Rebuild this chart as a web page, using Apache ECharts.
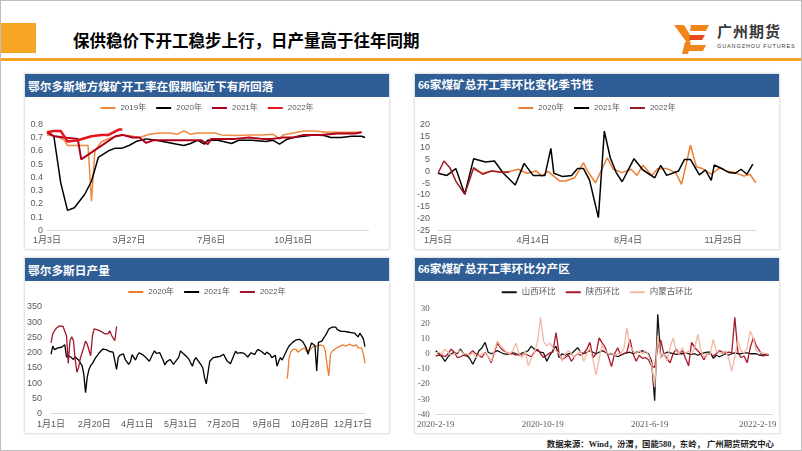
<!DOCTYPE html>
<html><head><meta charset="utf-8">
<script src="https://cdn.jsdelivr.net/npm/echarts/dist/echarts.min.js"></script>
<style>
body{margin:0;background:#fff;}
#page{position:relative;width:802px;height:451px;overflow:hidden;background:#fff;font-family:"Noto Sans CJK SC",sans-serif;box-sizing:border-box;border:1px solid #bdbdbd;}
.abs{position:absolute;}
.card{position:absolute;background:#fff;border:1px solid #e4e4e4;box-shadow:0 0 2px rgba(0,0,0,0.12);box-sizing:border-box;}
.bar{position:absolute;left:0;top:0;right:0;height:23px;background:#2f5d95;color:#fff;font-weight:bold;font-size:11.7px;line-height:23px;padding-left:3px;white-space:nowrap;}
.chart{position:absolute;}
</style></head>
<body>
<div id="page">
  <div class="abs" style="left:0;top:22px;width:35px;height:30px;background:#F6A623"></div>
  <div class="abs" style="left:0;top:57px;width:802px;height:3px;background:#F6A623"></div>
  <div class="abs" style="left:72px;top:27px;font-size:16.5px;font-weight:bold;color:#000;line-height:24px;white-space:nowrap">保供稳价下开工稳步上行，日产量高于往年同期</div>
  <svg class="abs" style="left:672px;top:20px" width="40" height="34" viewBox="0 0 40 34">
    <polygon points="1,4 11,4 19,17 15,23" fill="#F08519"/>
    <polygon points="12,21 18,21 15,33 9,33" fill="#F08519"/>
    <polygon points="18,4 36,4 33,10 17,10" fill="#F08519"/>
    <polygon points="17,14 32,14 29,19 16,19" fill="#E8481B"/>
    <polygon points="16,24 33,24 30,30 14,30" fill="#F08519"/>
  </svg>
  <div class="abs" style="left:716px;top:21px;font-size:15px;font-weight:bold;color:#3a3a3a;line-height:18px;white-space:nowrap;letter-spacing:1px">广州期货</div>
  <div class="abs" style="left:716px;top:42px;font-size:5.5px;color:#3a3a3a;line-height:7px;white-space:nowrap;letter-spacing:0.9px;font-family:'Liberation Sans',sans-serif">GUANGZHOU FUTURES</div>

  <div class="card" style="left:23px;top:72px;width:366px;height:177px"><div class="bar">鄂尔多斯地方煤矿开工率在假期临近下有所回落</div></div>
  <div class="card" style="left:413px;top:72px;width:366px;height:177px"><div class="bar" style="font-family:'Liberation Serif','Noto Sans CJK SC',serif">66家煤矿总开工率环比变化季节性</div></div>
  <div class="card" style="left:23px;top:256px;width:366px;height:177px"><div class="bar">鄂尔多斯日产量</div></div>
  <div class="card" style="left:413px;top:256px;width:366px;height:177px"><div class="bar" style="font-family:'Liberation Serif','Noto Sans CJK SC',serif">66家煤矿总开工率环比分产区</div></div>

  <div class="abs" style="right:27px;top:437px;font-size:8.4px;color:#222;font-weight:bold;white-space:nowrap;font-family:'Liberation Serif','Noto Sans CJK SC',serif;line-height:14px">数据来源：Wind，汾渭，国能580，东岭， 广州期货研究中心</div>

  <div id="c1" class="chart" style="left:23px;top:96px;width:366px;height:152px"></div>
  <div id="c2" class="chart" style="left:413px;top:96px;width:366px;height:152px"></div>
  <div id="c3" class="chart" style="left:23px;top:279px;width:366px;height:153px"></div>
  <div id="c4" class="chart" style="left:413px;top:279px;width:366px;height:153px"></div>
</div>
<script>
// ---------- Chart 1: 鄂尔多斯地方煤矿开工率 (category index, rate) ----------
const ticks1 = ['1月3日', '3月27日', '7月6日', '10月18日'];
const nCat1 = 95;          // seasonal date slots
const tickEvery1 = 24;
const rate2019 = [[0,0.72],[3,0.71],[5,0.68],[6,0.64],[12,0.64],[13,0.22],[14,0.60],[16,0.67],[19,0.70],[22,0.72],[24,0.715],[27,0.70],[30,0.725],[33,0.735],[36,0.735],[38,0.725],[40,0.75],[42,0.725],[44,0.735],[47,0.735],[49,0.735],[51,0.72],[55,0.715],[59,0.72],[63,0.72],[66,0.725],[68,0.69],[69,0.72],[72,0.735],[75,0.75],[78,0.75],[82,0.74],[86,0.74],[90,0.74],[92,0.74]];
const rate2020 = [[0,0.74],[2,0.71],[4,0.36],[6,0.15],[8,0.17],[11,0.27],[13,0.37],[15,0.55],[18,0.60],[20,0.62],[22,0.62],[24,0.64],[26,0.67],[29,0.69],[32,0.68],[35,0.665],[38,0.65],[40,0.64],[42,0.655],[44,0.68],[46,0.65],[47,0.68],[50,0.68],[54,0.655],[56,0.68],[60,0.68],[64,0.67],[66,0.68],[68,0.65],[70,0.685],[72,0.70],[75,0.71],[78,0.72],[81,0.715],[83,0.70],[86,0.70],[89,0.71],[92,0.71],[93,0.70]];
const rate2021 = [[0,0.74],[2,0.71],[5,0.70],[9,0.69],[10,0.535],[20,0.71],[22,0.72],[25,0.70],[27,0.70],[29,0.66],[31,0.68],[35,0.68],[40,0.68],[45,0.68],[47,0.65],[48,0.69],[51,0.69],[55,0.69],[59,0.70],[63,0.69],[66,0.69],[69,0.70],[72,0.70],[75,0.72],[80,0.72],[85,0.73],[90,0.73],[92,0.74]];
const rate2022 = [[0,0.74],[2,0.75],[4,0.75],[6,0.67],[9,0.68],[13,0.71],[16,0.72],[18,0.72],[21,0.76],[22,0.76]];

// ---------- Chart 2: 66家煤矿总开工率环比 (category index, %) ----------
const ticks2 = ['1月5日', '4月14日', '8月4日', '11月25日'];
const nCat2 = 108;
const tickEvery2 = 32;
const chg2020 = [[12,0.9],[15,-0.8],[18,0.2],[22,-0.3],[24,0],[27,0.9],[30,-0.8],[33,0.2],[35,-2],[37,0],[41,-4.1],[43,-4.1],[46,-2.7],[49,3.7],[50,0.9],[53,-4.8],[57,5.8],[59,0.9],[62,-0.5],[65,0.9],[67,-1.7],[69,2.6],[72,-1.7],[74,1.2],[77,1.2],[80,-0.5],[82,-5.5],[85,11.1],[87,2.0],[89,1.2],[92,-1.2],[95,1.6],[97,0.2],[100,-0.5],[103,-2],[105,-1.2],[107,-4.8]];
const chg2021 = [[0,-0.8],[3,-1.7],[6,1.2],[9,-9.7],[12,5.4],[16,4.0],[19,4.4],[22,-0.8],[26,-5.8],[29,3.4],[32,-1.7],[36,-1.7],[38,9.8],[39,-0.8],[42,-2.2],[45,-1.7],[47,1.2],[49,1.2],[51,-3.6],[54,-19.6],[56,17.1],[58,5.8],[60,-0.5],[62,-4.4],[66,5.4],[69,0.6],[73,-2.7],[75,2.6],[77,-1.7],[81,0.2],[83,5.1],[85,5.1],[88,-1.5],[90,0.6],[92,-3.8],[93,2.7],[96,0.9],[98,-0.5],[100,-0.8],[102,0.9],[104,-1.2],[106,3.1]];
const chg2022 = [[0,-0.8],[2,4.4],[4,1.6],[6,-4.1],[9,-9.7],[12,1.6],[15,-1.2],[18,0.2],[22,-0.5],[24,-0.3]];

// ---------- Chart 3: 鄂尔多斯日产量 (every 2nd day of year) ----------
const ticks3 = ['1月1日', '2月20日', '4月11日', '5月31日', '7月20日', '9月8日', '10月28日', '12月17日'];
const nCat3 = 183;
const tickEvery3 = 25;
const prod2021 = [
  195,222,210,205,216,222,218,214,226,186,
  190,188,182,178,186,184,176,172,158,130,
  69,120,145,158,165,175,185,192,200,206,
  212,216,210,208,204,200,202,196,145,185,
  192,198,196,178,170,162,170,194,185,176,
  190,200,196,194,188,184,180,172,166,196,
  206,198,204,200,206,175,160,170,174,178,
  170,162,170,168,185,206,200,196,192,185,
  178,166,156,176,184,176,170,160,150,118,
  98,135,172,178,184,180,186,184,188,192,
  195,184,174,168,164,160,192,205,198,194,
  200,205,198,192,186,190,200,196,194,204,
  211,206,204,198,194,202,205,194,184,190,
  192,156,172,184,176,174,200,212,222,228,
  234,238,242,244,244,240,236,232,215,195,
  215,232,228,224,140,234,240,238,248,256,
  266,278,280,284,288,284,276,272,270,272,
  270,266,268,266,266,270,264,266,252,264,
  258,246,220];
const prod2022 = [
  232,262,272,280,284,288,292,286,280,255,
  165,240,252,240,178,136,152,182,200,218,
  238,228,222,190,255,278,280,275,272,270,
  274,262,268,262,272,258,248,240,286];
const prod2020Start = 137; // slot of 10月1日 (day 274)
const prod2020 = [
  115,184,202,210,206,212,202,200,210,214,
  216,204,200,210,212,220,226,222,220,226,
  224,222,205,160,124,195,205,210,214,216,
  220,222,226,226,222,220,228,232,222,220,
  226,216,214,216,196,166];

// ---------- Chart 4: 分产区环比 (weekly, x = days since 2020-2-19) ----------
const ticks4 = ['2020-2-19', '2020-10-19', '2021-6-19', '2022-2-19'];
const tickDays4 = [0, 243, 486, 731];
const axisEndDay4 = 765;
const shanxi = [
  2,0,-2,-5,-2,0,1,0,3,0,
  -1,-3,-7,-3,2,4,7.5,1,0,1,
  2,1,0,-0.5,0,0.5,0,-1,0.5,1,
  2,5,3,2,1,0.5,-5,-1,2,5,
  -2.5,0,-1,0,0,2,4,1,0,1,
  2,1,0,1,2,1,0,0,-1,-2,
  -1,0,0.5,1,0,1,1,2,1,0,
  -5,-31,26,-2.5,0,1,0.5,0,-0.5,0,
  0,0.5,0,-0.5,0,-1,0,0.5,1,1,
  -3,-1,-2,-1,0,-1,0,0.5,0,0,
  0.5,0.5,0,0,0,-1,-1,-0.5,-0.5];
const shaanxi = [
  -1.5,-1,-1,-2,0,3,1,-2.5,-2,-1,
  -1.5,0,2,0,-1,-2.5,1,-2,-6,1,
  7,4,2,1,0,0,-1,0,-1,0,
  -1,-2,1,3,0,-2.5,-1,0.5,1,14,
  0,-4,-2.5,-1,-5,-2,0,-1,0.5,3,
  7.5,-2.5,0,10.5,7,4,-2,-8.5,0,4,
  -1,0,1,9.5,0,-5,-1,-3,-2.5,-4,
  -8,-9,4,9,-0.5,-3,-6,0,3,0,
  2,-3,-8,7.5,4,2,-0.5,-4,0,0,
  -1.5,0,2,1,0.5,1,0.5,24,1,-2.5,
  -1.5,-6,4,10.5,5,2,-1.5,-1,-1];
const neimenggu = [
  0.5,1,0,3,1,-1,0,1,2,0,
  0,-1,1,-2.5,-1,0,0.5,-2,-5,2,
  8.5,5,3,1,0,2,7,0,-2.5,2,
  -8,-3,0.5,8,24,8,5,7,4,2,
  0,-5,0,2,0,-2.5,0,2,-5,0,
  4,-4,-14,-3,6,2,0,0.5,-1,0,
  0,3,17,5,2,0,2,0,2,-1,
  -7,-22,12,-2.5,0,-5,4,10.5,2,0,
  4,0,2,0,4,13,2,-2.5,0,-0.5,
  9.5,2,0.5,0,2,-3,-11.5,-2,8.5,2,
  0.5,4,15,10,2,1,0.5,0,-0.5];

// ---------- builders ----------
const SANS = '"Liberation Sans","Noto Sans CJK SC",sans-serif';
const SERIF = '"Liberation Serif","Noto Sans CJK SC",serif';
const LABEL = '#595959';
const AXISLINE = '#d9d9d9';

function cats(n, every, ticks) {
  const out = [];
  for (let i = 0; i < n; i++) out.push(i % every === 0 && ticks[i / every] ? ticks[i / every] : '');
  return out;
}
function line(name, data, w) {
  return { type: 'line', name: name, data: data, symbol: 'none', showSymbol: false,
           lineStyle: { width: w }, emphasis: { disabled: true }, z: 2 };
}
function legend(top, font, size) {
  return { top: top, left: 'center', icon: 'rect', itemWidth: 15, itemHeight: 2, itemGap: 10,
           textStyle: { fontSize: size, color: LABEL, fontFamily: font } };
}
function catAxis(data, every, margin) {
  return { type: 'category', data: data, boundaryGap: false,
           axisLine: { onZero: false, lineStyle: { color: AXISLINE } }, axisTick: { show: false },
           axisLabel: { interval: every - 1, color: LABEL, fontSize: 9, margin: margin, fontFamily: SANS },
           splitLine: { show: false } };
}
function valAxis(min, max, step, margin, font) {
  return { type: 'value', min: min, max: max, interval: step,
           axisLine: { show: false }, axisTick: { show: false }, splitLine: { show: false },
           axisLabel: { color: LABEL, fontSize: 9, margin: margin, fontFamily: font } };
}

// Chart 1
echarts.init(document.getElementById('c1')).setOption({
  animation: false,
  color: ['#F08A3C', '#000000', '#B0001C', '#E8141C'],
  legend: legend(2, SANS, 8),
  grid: { left: 23, top: 27.3, width: 321.5, height: 106 },
  xAxis: catAxis(cats(nCat1, tickEvery1, ticks1), tickEvery1, 6),
  yAxis: valAxis(0, 0.8, 0.1, 4, SANS),
  series: [line('2019年', rate2019, 1.5), line('2020年', rate2020, 1.5),
           line('2021年', rate2021, 2), line('2022年', rate2022, 2.5)]
});

// Chart 2
echarts.init(document.getElementById('c2')).setOption({
  animation: false,
  color: ['#ED7D31', '#000000', '#A0172A'],
  legend: legend(2, SANS, 8),
  grid: { left: 24, top: 27.3, width: 317.8, height: 106 },
  xAxis: catAxis(cats(nCat2, tickEvery2, ticks2), tickEvery2, 6),
  yAxis: valAxis(-25, 20, 5, 8, SANS),
  series: [line('2020年', chg2020, 1.5), line('2021年', chg2021, 1.5), line('2022年', chg2022, 1.5)]
});

// Chart 3
const prod2020Data = prod2020.map((v, i) => [prod2020Start + i, v]);
echarts.init(document.getElementById('c3')).setOption({
  animation: false,
  color: ['#ED7D31', '#000000', '#A0172A'],
  legend: legend(3, SANS, 8),
  grid: { left: 24.3, top: 27, width: 316.7, height: 106.7 },
  xAxis: catAxis(cats(nCat3, tickEvery3, ticks3), tickEvery3, 6),
  yAxis: valAxis(0, 350, 50, 9, SANS),
  series: [line('2020年', prod2020Data, 1.3), line('2021年', prod2021, 1.3), line('2022年', prod2022, 1.3)]
});

// Chart 4
const weekly = arr => arr.map((v, i) => [i * 7, v]);
echarts.init(document.getElementById('c4')).setOption({
  animation: false,
  color: ['#111111', '#A8172B', '#F3B8A2'],
  legend: legend(3, SERIF, 8.5),
  grid: { left: 21, top: 28.3, width: 337.7, height: 106 },
  xAxis: { type: 'value', min: 0, max: axisEndDay4,
           axisLine: { onZero: false, lineStyle: { color: AXISLINE } }, axisTick: { show: false },
           splitLine: { show: false },
           axisLabel: { customValues: tickDays4, color: LABEL, fontSize: 9, margin: 6, fontFamily: SERIF,
             formatter: v => { const k = tickDays4.indexOf(v); return k >= 0 ? ticks4[k] : ''; } } },
  yAxis: valAxis(-40, 30, 10, 6, SERIF),
  series: [line('山西环比', weekly(shanxi), 1.3), line('陕西环比', weekly(shaanxi), 1.3),
           line('内蒙古环比', weekly(neimenggu), 1.3)]
});
</script>
</body></html>
